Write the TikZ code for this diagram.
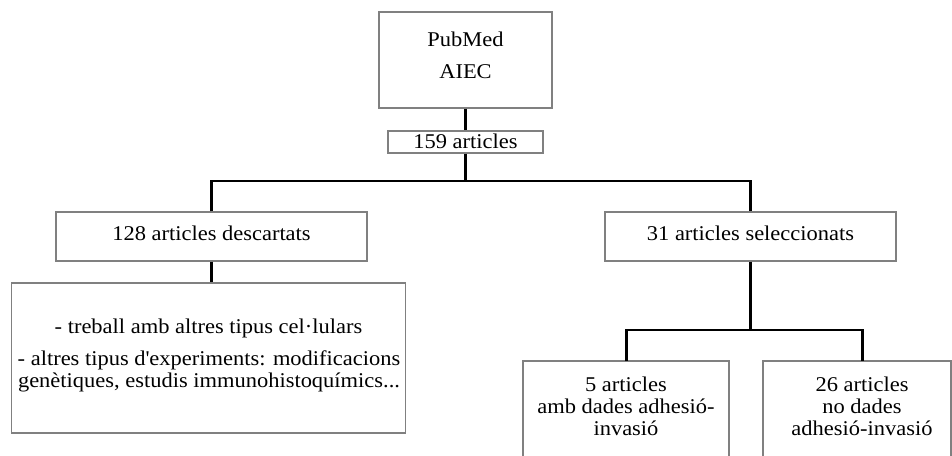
\documentclass[tikz,border=0pt]{standalone}
\usepackage{fontspec}
\setmainfont[FakeStretch=1.07]{Liberation Serif}
\begin{document}
\begin{tikzpicture}[x=1pt,y=-1pt,
  box/.style={draw=black!50, line width=1.2pt, fill=white, inner sep=0pt},
  txt/.style={font=\fontsize{21}{23}\selectfont, inner sep=0pt, anchor=base, text=black},
  link/.style={draw=black, line width=2.7pt}]
\useasboundingbox (0,0) rectangle (952,455);
% boxes
\node[box, minimum width=173pt, minimum height=96pt] (pub) at (465.5,60) {};
\node[box, minimum width=155pt, minimum height=22pt] (n159) at (465.5,142) {};
\node[box, minimum width=311pt, minimum height=49pt] (desc) at (211.5,236.5) {};
\node[box, minimum width=394pt, minimum height=150pt] (big) at (208.5,358) {};
\node[box, minimum width=291pt, minimum height=49pt] (sel) at (750.5,236.5) {};
\node[box, minimum width=206pt, minimum height=120pt] (five) at (626,421) {};
\node[box, minimum width=188pt, minimum height=120pt] (tsix) at (857,421) {};
% texts
\node[txt] (t1) at (465.5,46.7) {PubMed};
\node[txt] (t2) at (465.5,78) {AIEC};
\node[txt] (t3) at (465.5,148) {159 articles};
\node[txt] (t4) at (211.5,240.5) {128 articles descartats};
\node[txt] (t5) at (750.5,240.5) {31 articles seleccionats};
\node[txt] (t6) at (208.5,333) {- treball amb altres tipus cel·lulars};
\node[txt] (t7) at (209,365) {- altres tipus d\textquotesingle experiments: modificacions};
\node[txt] (t8) at (209,387) {genètiques, estudis immunohistoquímics...};
\node[txt] (t9) at (626,391) {5 articles};
\node[txt] (t10) at (626,413) {amb dades adhesió-};
\node[txt] (t11) at (626,435) {invasió};
\node[txt] (t12) at (862,391) {26 articles};
\node[txt] (t13) at (862,413) {no dades};
\node[txt] (t14) at (862,435) {adhesió-invasió};
% connectors
\coordinate (j1) at (465.5,181);
\coordinate (j2) at (750.5,330);
\coordinate (fiveTop) at (626.5,361);
\coordinate (tsixTop) at (862.5,361);
\draw[link] (pub.south) -- (n159.north);
\draw[link] (n159.south) -- (j1);
\draw[link] (desc.north) |- (j1) -| (sel.north);
\draw[link] (desc.south) -- (desc.south |- big.north);
\draw[link] (sel.south) -- (j2);
\draw[link] (fiveTop) |- (j2) -| (tsixTop);
\end{tikzpicture}
\end{document}
